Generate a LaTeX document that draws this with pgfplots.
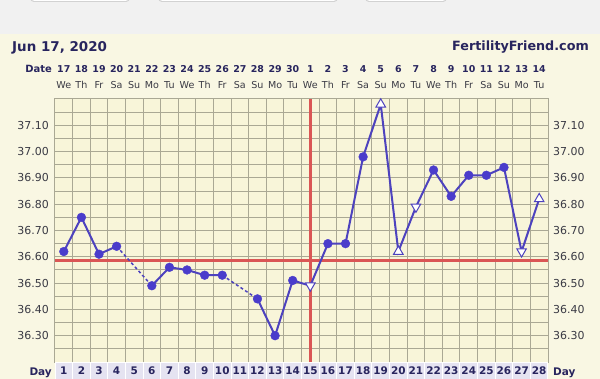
\documentclass[border=0pt]{standalone}
\usepackage{pgfplots}
\pgfplotsset{compat=1.18}
\usepackage{fontspec}
\setmainfont{DejaVu Sans}
\definecolor{outer}{HTML}{F9F7E3}
\definecolor{plotbg}{HTML}{F8F5D9}
\definecolor{gridc}{HTML}{AAA894}
\definecolor{navy}{HTML}{28255E}
\definecolor{bline}{HTML}{4D42BE}
\definecolor{bmark}{HTML}{4A3CCB}
\definecolor{redl}{HTML}{DA5655}
\definecolor{cell}{HTML}{E5E3F1}
\definecolor{topgray}{HTML}{F1F1F1}
\definecolor{labc}{HTML}{3A3A44}
\begin{document}
\begin{tikzpicture}
\fill[topgray] (-55bp,-17bp) rectangle (545bp,362bp);
\fill[outer] (-55bp,-17bp) rectangle (545bp,328bp);
\foreach \a/\b in {-25/75,103/283,310/392}{
  \fill[gray!35,rounded corners=4bp] (\a bp,360bp) rectangle (\b bp,372bp);
  \fill[white,rounded corners=4bp] (\a bp,361.2bp) rectangle (\b bp,372bp);
}
\begin{axis}[name=A, at={(0,0)}, anchor=south west, scale only axis,
  width=493bp, height=263bp,
  xmin=0.5, xmax=28.5, ymin=36.2, ymax=37.2, clip=false,
  axis background/.style={fill=plotbg},
  axis line style={gridc, line width=1bp},
  xtick={1,2,3,4,5,6,7,8,9,10,11,12,13,14,15,16,17,18,19,20,21,22,23,24,25,26,27,28},
  xticklabels={1,2,3,4,5,6,7,8,9,10,11,12,13,14,15,16,17,18,19,20,21,22,23,24,25,26,27,28},
  minor xtick={1.5,2.5,3.5,4.5,5.5,6.5,7.5,8.5,9.5,10.5,11.5,12.5,13.5,14.5,15.5,16.5,17.5,18.5,19.5,20.5,21.5,22.5,23.5,24.5,25.5,26.5,27.5},
  ytick={36.3,36.4,36.5,36.6,36.7,36.8,36.9,37.0,37.1},
  yticklabels={36.30,36.40,36.50,36.60,36.70,36.80,36.90,37.00,37.10},
  minor ytick={36.25,36.3,36.35,36.4,36.45,36.5,36.55,36.6,36.65,36.7,36.75,36.8,36.85,36.9,36.95,37.0,37.05,37.1,37.15},
  grid=minor, minor grid style={gridc, line width=1bp},
  major tick length=0pt, minor tick length=0pt,
  xticklabel style={font=\fontsize{10.5}{12}\selectfont\bfseries, text=navy, fill=cell, draw=white, line width=1bp, minimum width=17.6bp, minimum height=17bp, inner sep=0pt, anchor=north},
  yticklabel style={font=\fontsize{11}{13}\selectfont, text=labc, inner sep=0pt, xshift=-6bp},
]
\addplot[redl, line width=2.5bp] coordinates {(0.5,36.585) (28.5,36.585)};
\addplot[redl, line width=2.5bp] coordinates {(15,36.2) (15,37.2)};
\addplot[bline, line width=1.5bp, dash pattern=on 3bp off 2.5bp] coordinates {(4,36.64) (6,36.49)};
\addplot[bline, line width=1.5bp, dash pattern=on 3bp off 2.5bp] coordinates {(10,36.53) (12,36.44)};
\addplot[bline, line width=2bp] coordinates {(1,36.62)(2,36.75)(3,36.61)(4,36.64)};
\addplot[bline, line width=2bp] coordinates {(6,36.49)(7,36.56)(8,36.55)(9,36.53)(10,36.53)};
\addplot[bline, line width=2bp] coordinates {(12,36.44)(13,36.30)(14,36.51)(15,36.49)(16,36.65)(17,36.65)(18,36.98)(19,37.18)(20,36.62)(21,36.79)(22,36.93)(23,36.83)(24,36.91)(25,36.91)(26,36.94)(27,36.62)(28,36.82)};
\addplot[only marks, mark=*, mark size=4.4bp, mark options={fill=bmark, draw=bmark}] coordinates {(1,36.62)(2,36.75)(3,36.61)(4,36.64)(6,36.49)(7,36.56)(8,36.55)(9,36.53)(10,36.53)(12,36.44)(13,36.30)(14,36.51)(16,36.65)(17,36.65)(18,36.98)(22,36.93)(23,36.83)(24,36.91)(25,36.91)(26,36.94)};
\addplot[only marks, mark=triangle*, mark size=5.5bp, mark options={fill=white, draw=bline, line width=1bp}] coordinates {(19,37.18)(20,36.62)(28,36.82)};
\addplot[only marks, mark=triangle*, mark size=5.5bp, mark options={rotate=180, fill=white, draw=bline, line width=1bp}] coordinates {(15,36.49)(21,36.79)(27,36.62)};
\end{axis}
\begin{axis}[at={(0,0)}, anchor=south west, scale only axis,
  width=493bp, height=263bp,
  xmin=0.5, xmax=28.5, ymin=36.2, ymax=37.2,
  axis line style={draw=none}, major tick length=0pt,
  xticklabel pos=top, yticklabel pos=right,
  xtick={1,2,3,4,5,6,7,8,9,10,11,12,13,14,15,16,17,18,19,20,21,22,23,24,25,26,27,28},
  xticklabels={17,18,19,20,21,22,23,24,25,26,27,28,29,30,1,2,3,4,5,6,7,8,9,10,11,12,13,14},
  ytick={36.3,36.4,36.5,36.6,36.7,36.8,36.9,37.0,37.1},
  yticklabels={36.30,36.40,36.50,36.60,36.70,36.80,36.90,37.00,37.10},
  xticklabel style={font=\fontsize{9.5}{11}\selectfont\bfseries, text=navy, anchor=base, inner sep=0pt, yshift=26bp},
  yticklabel style={font=\fontsize{11}{13}\selectfont, text=labc, inner sep=0pt, xshift=5bp, anchor=west},
]
\end{axis}
\begin{axis}[at={(0,0)}, anchor=south west, scale only axis,
  width=493bp, height=263bp,
  xmin=0.5, xmax=28.5, ymin=36.2, ymax=37.2,
  axis line style={draw=none}, major tick length=0pt,
  xticklabel pos=top, ytick=\empty,
  xtick={1,2,3,4,5,6,7,8,9,10,11,12,13,14,15,16,17,18,19,20,21,22,23,24,25,26,27,28},
  xticklabels={We,Th,Fr,Sa,Su,Mo,Tu,We,Th,Fr,Sa,Su,Mo,Tu,We,Th,Fr,Sa,Su,Mo,Tu,We,Th,Fr,Sa,Su,Mo,Tu},
  xticklabel style={font=\fontsize{9.6}{11}\selectfont, text=labc, anchor=base, inner sep=0pt, yshift=10bp},
]
\end{axis}
\node[anchor=base east, font=\fontsize{10}{12}\selectfont\bfseries, text=navy, inner sep=0pt] at ([xshift=-3bp,yshift=26bp]A.north west) {Date};
\node[anchor=base west, font=\fontsize{13.5}{15}\selectfont\bfseries, text=navy, inner sep=0pt] at ([xshift=-43bp,yshift=47bp]A.north west) {Jun 17, 2020};
\node[anchor=base east, font=\fontsize{12.8}{15}\selectfont\bfseries, text=navy, inner sep=0pt] at ([xshift=41bp,yshift=48bp]A.north east) {FertilityFriend.com};
\node[anchor=base east, font=\fontsize{10.5}{12}\selectfont\bfseries, text=navy, inner sep=0pt] at ([xshift=-3bp,yshift=-13bp]A.south west) {Day};
\node[anchor=base west, font=\fontsize{10.5}{12}\selectfont\bfseries, text=navy, inner sep=0pt] at ([xshift=5bp,yshift=-13bp]A.south east) {Day};
\pgfresetboundingbox
\path[use as bounding box] (-55bp,-17bp) rectangle (545bp,362bp);
\end{tikzpicture}
\end{document}
